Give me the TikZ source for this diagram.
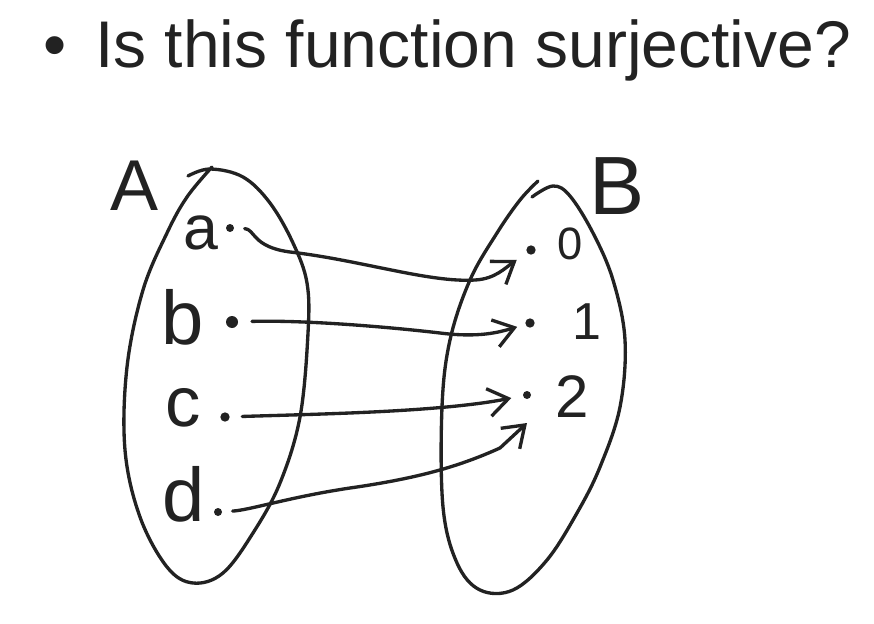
\documentclass[tikz,border=0pt]{standalone}
\usepackage{fontspec}
\setmainfont{Liberation Sans}
\usetikzlibrary{arrows.meta}
\definecolor{ink}{RGB}{34,34,34}
\begin{document}
\begin{tikzpicture}[x=0.75pt,y=-0.75pt, line cap=round, line join=round,
  hand/.style={draw=ink, line width=2.5pt},
  blob/.style={hand, smooth, tension=0.6},
  dotnode/.style={circle, fill=ink, inner sep=0pt, minimum size=#1},
  dotnode/.default=7pt,
  lbl/.style={text=ink, inner sep=0pt},
  maparrow/.style={hand, -{Straight Barb[length=15pt, width=21pt]}}]
\useasboundingbox (0,0) rectangle (874,624);

% title
\node[lbl, anchor=base, font=\fontsize{49.5}{56}\selectfont] (bullet) at (55,68) {•};
\node[lbl, anchor=base west, font=\fontsize{49.5}{56}\selectfont] (title) at (95,68) {Is this function surjective?};

% set A
\draw[blob] plot coordinates {(188,176) (210,169) (243,177) (270,203) (293,243) (307,283) (308,333) (300,417) (280,483) (253,533) (223,573) (193,583) (167,567) (140,517) (125,450) (127,367) (143,290) (167,233) (187,197) (212,167)};
% set B
\draw[blob] plot coordinates {(532,197) (553,186) (570,196) (593,233) (613,280) (625,340) (620,407) (600,467) (577,513) (547,560) (513,590) (480,590) (457,563) (443,507) (442,407) (450,340) (470,280) (497,233) (520,200) (538,181)};

% set names
\node[lbl, font=\fontsize{54}{54}\selectfont] (A) at (135,186) {A};
\node[lbl, font=\fontsize{62}{62}\selectfont] (B) at (617,186) {B};

% elements of A
\node[lbl, font=\fontsize{47}{47}\selectfont] (la) at (201,233) {a};
\node[lbl, font=\fontsize{57}{57}\selectfont] (lb) at (183,317) {b};
\node[lbl, font=\fontsize{53}{53}\selectfont] (lc) at (183,408) {c};
\node[lbl, font=\fontsize{57}{57}\selectfont] (ld) at (184,494) {d};
\node[dotnode=6pt] (pa) at (230,228) {};
\node[dotnode=9pt] (pb) at (232,322) {};
\node[dotnode=7pt] (pc) at (225,417) {};
\node[dotnode=6pt] (pd) at (218,512) {};

% elements of B
\node[lbl, font=\fontsize{34}{34}\selectfont] (l0) at (570,244) {0};
\node[lbl, font=\fontsize{39}{39}\selectfont] (l1) at (587,322) {1};
\node[lbl, font=\fontsize{45}{45}\selectfont] (l2) at (572,397) {2};
\node[dotnode=7pt] (q0) at (531,250) {};
\node[dotnode=7pt] (q1) at (530,323) {};
\node[dotnode=6pt] (q2) at (527,395) {};
\coordinate (h2) at (527,423);

% mapping arrows
\draw[maparrow, shorten <=11pt, shorten >=13pt] (pa.center) .. controls (255,229) and (252,247) .. (290,252) .. controls (360,260) and (430,283) .. (475,280) .. controls (495,279) and (505,268) .. (q0.center);
\draw[maparrow, shorten <=15pt, shorten >=10pt] (pb.center) .. controls (300,320) and (380,326) .. (440,333) .. controls (480,338) and (500,332) .. (q1.center);
\draw[maparrow, shorten <=13pt, shorten >=12pt] (pc.center) .. controls (320,414) and (440,412) .. (q2.center);
\draw[maparrow, shorten <=11pt] (pd.center) .. controls (250,510) and (290,497) .. (350,488) .. controls (420,478) and (460,466) .. (500,448) -- (h2);
\end{tikzpicture}
\end{document}
